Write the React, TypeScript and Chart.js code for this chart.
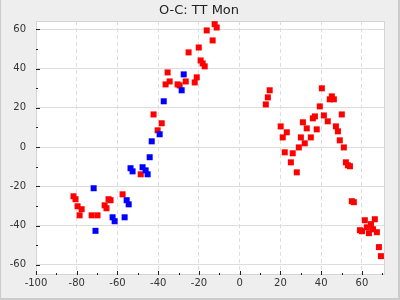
import React, { useEffect, useRef } from "react";
import { Chart, registerables } from "chart.js";

Chart.register(...registerables);

const TITLE = "O-C: TT Mon";

const redX = [
  -81.6, -80.6, -79.6, -77.6, -78.6, -72.7, -69.8, -66.3, -65.4, -64.4, -63.4, -57.5, -48.6,
  -42.3, -38.3, -40.3,
  -35.4, -34.4, -36.4, -30.5, -29.5, -26.5, -22.1, -21.1, -25.1, -20.1, -19.2, -18.2, -17.2, -16.2, -13.3, -12.3, -11.3,
  12.8, 13.8, 14.7, 20.1, 21.1, 22.1, 23.1, 25.1, 26.0, 28.0, 29.0, 30.0, 31.0, 31.9, 32.9, 34.9, 35.9, 36.9, 37.8,
  39.3, 40.3, 41.3, 43.2, 44.2, 45.2, 46.2, 47.2, 48.2, 49.1, 50.1, 51.1, 52.1, 53.1, 54.1, 55.0, 56.0,
  59.0, 60.0, 61.4, 62.4, 63.4, 64.4, 65.4, 66.3, 67.3, 68.3, 69.3,
];
const redY = [
  -25.1, -26.6, -30.2, -31.7, -34.8, -34.8, -34.8, -29.7, -31.2, -26.6, -27.1, -24.1, -13.9,
  16.6, 12.1, 8.5,
  38.0, 33.4, 31.9, 31.9, 31.4, 33.4, 32.9, 35.5, 48.2, 50.7, 44.1, 42.6, 41.1, 59.4, 54.3, 62.6, 60.9,
  21.7, 25.3, 28.9, 10.5, 4.9, -2.7, 7.5, -7.8, -3.2, -12.9, -0.2, 4.9, 12.6, 1.9, 9.5, 4.9, 14.6, 15.6, 9.0,
  20.7, 29.9, 16.1, 13.1, 24.3, 25.8, 24.3, 10.5, 8.0, 3.4, 16.6, -0.2, -7.8, -9.3, -9.8, -27.6, -28.1,
  -42.4, -42.9, -37.3, -40.9, -43.9, -39.3, -41.9, -36.8, -43.4, -51.0, -55.6,
];

const blueX = [
  -71.7, -70.8, -62.4, -61.4, -56.5, -55.5, -54.5, -53.6, -52.6, -47.7, -46.2, -45.2, -44.2, -43.2, -39.3, -37.3, -28.5, -27.5,
];
const blueY = [
  -21.0, -42.7, -35.8, -37.8, -35.8, -27.1, -29.2, -10.8, -12.4, -10.3, -11.9, -13.9, -5.2, 2.9, 6.5, 23.3, 28.9, 37.0,
];

const xTicks = [-100, -80, -60, -40, -20, 0, 20, 40, 60];
const yTicks = [-60, -40, -20, 0, 20, 40, 60];
const xMinor = [-90, -70, -50, -30, -10, 10, 30, 50, 70];
const yMinor = [-50, -30, -10, 10, 30, 50];

const X_MIN = -100;
const X_MAX = 71.3;
const Y_MIN = -65.2;
const Y_MAX = 64.2;

const FONT = '"DejaVu Sans", sans-serif';

const decor = {
  id: "decor",
  beforeDraw(chart: any) {
    const { ctx, chartArea: a, width, height } = chart;
    ctx.save();
    ctx.fillStyle = "#eeeeee";
    ctx.fillRect(0, 0, width, height);
    ctx.fillStyle = "#cccccc";
    ctx.fillRect(width - 2, 0, 2, height);
    ctx.fillRect(0, height - 2, width, 2);
    ctx.fillRect(0, 0, 1, height);
    ctx.fillStyle = "#ffffff";
    ctx.fillRect(a.left, a.top, a.right - a.left, a.bottom - a.top);
    ctx.fillStyle = "#222222";
    ctx.font = "13px " + FONT;
    ctx.textAlign = "center";
    ctx.textBaseline = "middle";
    ctx.fillText(TITLE, 199, 11);
    ctx.restore();
  },
  beforeDatasetsDraw(chart: any) {
    const { ctx, chartArea: a, scales } = chart;
    ctx.save();
    ctx.strokeStyle = "#d4d4d4";
    ctx.lineWidth = 1;
    ctx.strokeRect(a.left + 0.5, a.top + 0.5, a.right - a.left - 1, a.bottom - a.top - 1);
    ctx.strokeStyle = "#222222";
    ctx.beginPath();
    const yMarks = [...yTicks.map((v) => [v, 4]), ...yMinor.map((v) => [v, 2])];
    for (const [v, len] of yMarks) {
      const y = Math.round(scales.y.getPixelForValue(v)) + 0.5;
      ctx.moveTo(a.left, y);
      ctx.lineTo(a.left + len, y);
    }
    const xMarks = [...xTicks.map((v) => [v, 4]), ...xMinor.map((v) => [v, 2])];
    for (const [v, len] of xMarks) {
      const x = Math.round(scales.x.getPixelForValue(v)) + 0.5;
      ctx.moveTo(x, a.bottom);
      ctx.lineTo(x, a.bottom - len);
    }
    ctx.stroke();
    ctx.restore();
  },
};

export default function App() {
  const ref = useRef<HTMLCanvasElement>(null);
  useEffect(() => {
    if (!ref.current) return;
    const toPts = (xs: number[], ys: number[]) => xs.map((x, i) => ({ x, y: ys[i] }));
    const chart = new Chart(ref.current, {
      type: "scatter",
      data: {
        datasets: [
          {
            label: "blue",
            data: toPts(blueX, blueY),
            pointStyle: "rect",
            pointRadius: 4.25,
            pointHoverRadius: 4.25,
            backgroundColor: "#0000ff",
            borderWidth: 0,
          },
          {
            label: "red",
            data: toPts(redX, redY),
            pointStyle: "rect",
            pointRadius: 4.25,
            pointHoverRadius: 4.25,
            backgroundColor: "#ff0000",
            borderWidth: 0,
          },
        ],
      },
      options: {
        responsive: false,
        animation: false,
        events: [],
        layout: { padding: { top: 21, right: 15, left: 0, bottom: 0 } },
        plugins: { legend: { display: false }, title: { display: false }, tooltip: { enabled: false } },
        scales: {
          x: {
            type: "linear",
            min: X_MIN,
            max: X_MAX,
            afterFit: (s: any) => {
              s.height = 25;
            },
            afterBuildTicks: (s: any) => {
              s.ticks = xTicks.map((v) => ({ value: v }));
            },
            grid: { color: "#dddddd", lineWidth: 1, drawTicks: false },
            border: { display: false, dash: [4, 3] },
            ticks: {
              padding: 2,
              color: "#333333",
              font: { family: FONT, size: 10 },
              maxRotation: 0,
              autoSkip: false,
              callback: (v: any) => String(v),
            },
          },
          y: {
            type: "linear",
            min: Y_MIN,
            max: Y_MAX,
            afterFit: (s: any) => {
              s.width = 36;
            },
            afterBuildTicks: (s: any) => {
              s.ticks = yTicks.map((v) => ({ value: v }));
            },
            grid: { color: "#dddddd", lineWidth: 1, drawTicks: false },
            border: { display: false },
            ticks: {
              padding: 10,
              color: "#333333",
              font: { family: FONT, size: 10 },
              autoSkip: false,
              callback: (v: any) => String(v),
            },
          },
        },
      },
      plugins: [decor],
    });
    return () => chart.destroy();
  }, []);
  return (
    <div style={{ position: "fixed", left: 0, top: 0, width: 400, height: 300 }}>
      <canvas ref={ref} width={400} height={300} style={{ display: "block" }} />
    </div>
  );
}
